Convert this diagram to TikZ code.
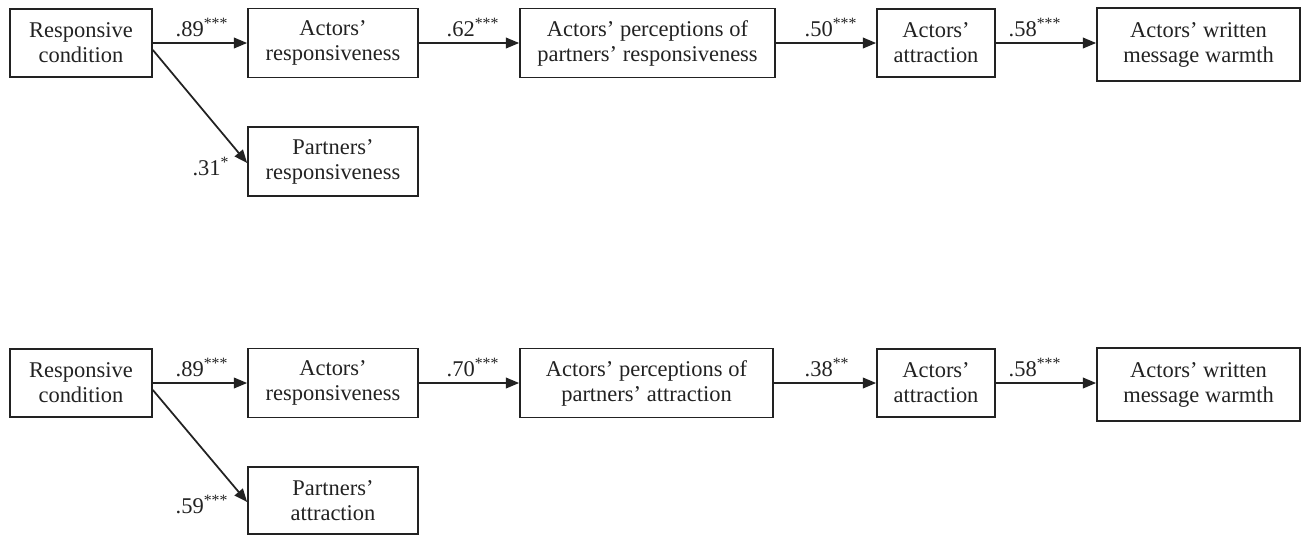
\documentclass[tikz,border=0pt]{standalone}
\usepackage{fontspec}
\setmainfont{Liberation Serif}
\usetikzlibrary{arrows.meta,calc}
\definecolor{ink}{HTML}{222222}
\tikzset{
  box/.style={draw=ink, line width=1pt, align=center, inner sep=0pt, text=ink,
    font=\fontsize{12.8}{14.2}\selectfont},
  conn/.style={draw=ink, line width=1pt, -{Triangle[length=7.5pt,width=6pt]}},
  coef/.style={anchor=base, inner sep=0pt, text=ink, font=\fontsize{12.8}{14.2}\selectfont}
}
\newcommand{\sig}[1]{\textsuperscript{#1}}
\begin{document}
\begin{tikzpicture}[x=0.02cm,y=-0.02cm]
\useasboundingbox (0,0) rectangle (1302,535);
% ---------- top panel ----------
\node[box, minimum width=2.84cm, minimum height=1.36cm] (cond1) at (81,43) {Responsive\\condition};
\node[box, minimum width=3.4cm, minimum height=1.38cm] (ar1) at (333,43) {Actors'\\responsiveness};
\node[box, minimum width=5.1cm, minimum height=1.38cm] (perc1) at (647.5,43) {Actors' perceptions of\\partners' responsiveness};
\node[box, minimum width=2.36cm, minimum height=1.36cm] (att1) at (936,43) {Actors'\\attraction};
\node[box, minimum width=4.06cm, minimum height=1.46cm] (warm1) at (1198.5,44.5) {Actors' written\\message warmth};
\node[box, minimum width=3.4cm, minimum height=1.38cm] (pr1) at (333,161.5) {Partners'\\responsiveness};
\coordinate (d1) at ($(cond1.east)+(0,7)$);
\draw[conn] (cond1.east) -- (ar1.west);
\draw[conn] (ar1.east) -- (perc1.west);
\draw[conn] (perc1.east) -- (att1.west);
\draw[conn] (att1.east) -- (warm1.west |- att1.east);
\draw[conn] (d1) -- ($(pr1.west)+(0,1.5)$);
\node[coef] (c1) at (202,36) {.89\sig{***}};
\node[coef] (c2) at (473,36) {.62\sig{***}};
\node[coef] (c3) at (831,36) {.50\sig{***}};
\node[coef] (c4) at (1035,36) {.58\sig{***}};
\node[coef] (c5) at (211,175) {.31\sig{*}};
% ---------- bottom panel ----------
\node[box, minimum width=2.84cm, minimum height=1.36cm] (cond2) at (81,383) {Responsive\\condition};
\node[box, minimum width=3.4cm, minimum height=1.38cm] (ar2) at (333,383) {Actors'\\responsiveness};
\node[box, minimum width=5.06cm, minimum height=1.38cm] (perc2) at (646.5,383) {Actors' perceptions of\\partners' attraction};
\node[box, minimum width=2.36cm, minimum height=1.36cm] (att2) at (936,383) {Actors'\\attraction};
\node[box, minimum width=4.06cm, minimum height=1.46cm] (warm2) at (1198.5,384.5) {Actors' written\\message warmth};
\node[box, minimum width=3.4cm, minimum height=1.34cm] (pa2) at (333,500.5) {Partners'\\attraction};
\coordinate (d2) at ($(cond2.east)+(0,7)$);
\draw[conn] (cond2.east) -- (ar2.west);
\draw[conn] (ar2.east) -- (perc2.west);
\draw[conn] (perc2.east) -- (att2.west);
\draw[conn] (att2.east) -- (warm2.west |- att2.east);
\draw[conn] (d2) -- ($(pa2.west)+(0,1.5)$);
\node[coef] (e1) at (202,376) {.89\sig{***}};
\node[coef] (e2) at (473,376) {.70\sig{***}};
\node[coef] (e3) at (827,376) {.38\sig{**}};
\node[coef] (e4) at (1035,376) {.58\sig{***}};
\node[coef] (e5) at (202,513) {.59\sig{***}};
\end{tikzpicture}
\end{document}
